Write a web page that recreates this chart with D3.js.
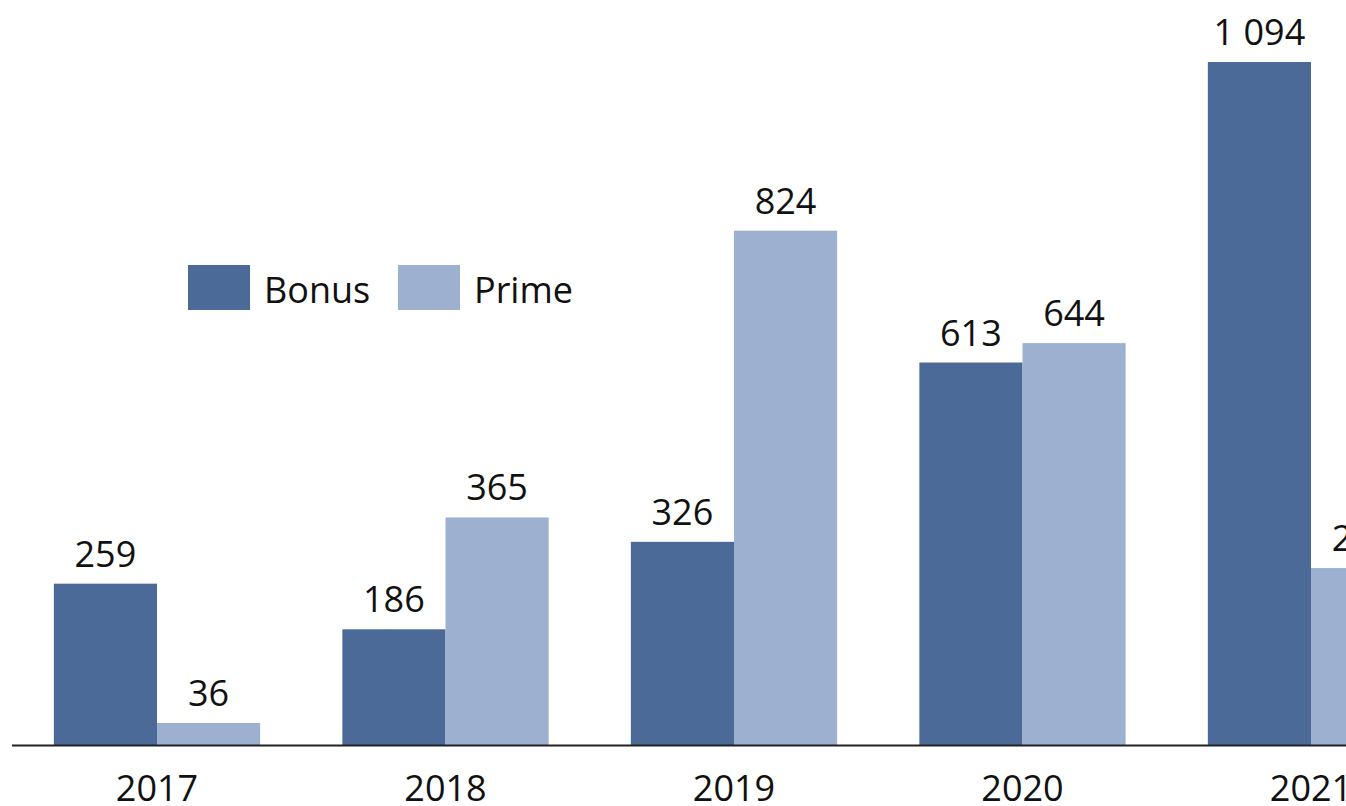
<!DOCTYPE html>
<html>
<head>
<meta charset="utf-8">
<script src="https://cdn.jsdelivr.net/npm/d3@7"></script>
<style>
  body { margin: 0; background: #fff; }
  svg text { font-family: "Open Sans", "Noto Sans", sans-serif; fill: #111; }
</style>
</head>
<body>
<svg width="1346" height="806"></svg>
<script>
var svg = d3.select("svg"),
    width = +svg.attr("width"),
    height = +svg.attr("height");

// Data
var years = ["2017", "2018", "2019", "2020", "2021"];
var series = ["Bonus", "Prime"];
var bonus = [259, 186, 326, 613, 1094];
var prime = [36, 365, 824, 644, 284];
var colors = ["#4b6a98", "#9db0cf"];

var values = [bonus, prime];

// Scales
var x = d3.scaleBand()
    .domain(years)
    .range([12.75, 1455.25])
    .paddingInner(0.285)
    .paddingOuter(0.1425);
var xSub = d3.scaleBand()
    .domain(series)
    .range([0, x.bandwidth()]);
var y = d3.scaleLinear()
    .domain([0, 1094])
    .range([745.5, 62]);

var fmt = d3.formatLocale({decimal: ",", thousands: " ", grouping: [3], currency: ["", " €"]}).format(",d");

// Bars
var groups = svg.append("g")
    .selectAll("g")
    .data(years)
    .enter().append("g")
        .attr("transform", function (d) { return "translate(" + x(d) + ",0)"; });

groups.selectAll("rect")
    .data(function (d, i) { return series.map(function (s, j) { return {s: s, j: j, v: values[j][i]}; }); })
    .enter().append("rect")
        .attr("x", function (d) { return xSub(d.s); })
        .attr("y", function (d) { return y(d.v); })
        .attr("width", xSub.bandwidth())
        .attr("height", function (d) { return y(0) - y(d.v); })
        .attr("fill", function (d) { return colors[d.j]; });

// Value labels
groups.selectAll("text")
    .data(function (d, i) { return series.map(function (s, j) { return {s: s, j: j, v: values[j][i]}; }); })
    .enter().append("text")
        .attr("x", function (d) { return xSub(d.s) + xSub.bandwidth() / 2; })
        .attr("y", function (d) { return y(d.v) - 17; })
        .attr("text-anchor", "middle")
        .style("font-size", "36px")
        .text(function (d) { return fmt(d.v); });

// Baseline axis
svg.append("line")
    .attr("x1", 12)
    .attr("x2", width)
    .attr("y1", y(0))
    .attr("y2", y(0))
    .attr("stroke", "#222")
    .attr("stroke-width", 2);

// Year labels
svg.append("g")
    .selectAll("text")
    .data(years)
    .enter().append("text")
        .attr("x", function (d) { return x(d) + x.bandwidth() / 2; })
        .attr("y", 801)
        .attr("text-anchor", "middle")
        .style("font-size", "36px")
        .text(function (d) { return d; });

// Legend
var legendX = [188, 398];
var legend = svg.append("g")
    .selectAll("g")
    .data(series)
    .enter().append("g")
        .attr("transform", function (d, i) { return "translate(" + legendX[i] + ",265)"; });
legend.append("rect")
    .attr("width", 62)
    .attr("height", 45)
    .attr("fill", function (d, i) { return colors[i]; });
legend.append("text")
    .attr("x", 76)
    .attr("y", 38)
    .style("font-size", "36px")
    .text(function (d) { return d; });
</script>
</body>
</html>
